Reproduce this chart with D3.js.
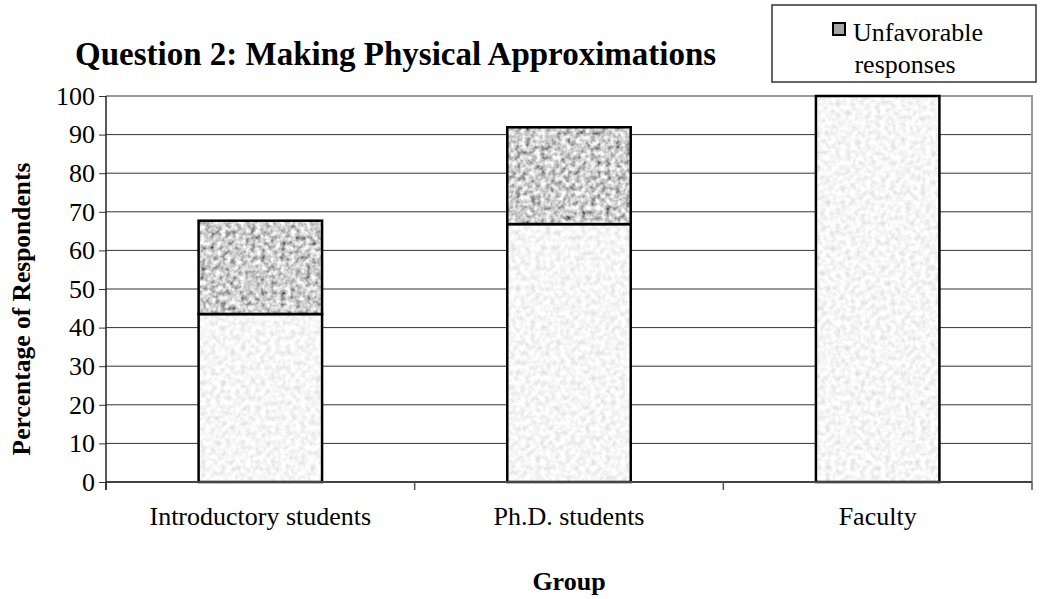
<!DOCTYPE html>
<html>
<head>
<meta charset="utf-8" />
<style>
  body {
    margin: 0;
    background: white;
    font-family: "Liberation Serif", "Times New Roman", serif;
  }
</style>
</head>
<body>
<div id="container"></div>
<script src="https://d3js.org/d3.v7.min.js"></script>
<script>
  // DATA
  const groups = ["Introductory students", "Ph.D. students", "Faculty"];
  const favorable = [43.5, 66.8, 100];
  const unfavorable = [24.2, 25.1, 0];
  const yTicks = [0, 10, 20, 30, 40, 50, 60, 70, 80, 90, 100];

  // CONSTRUCT SVG CONTAINER
  const W = 1041, H = 599;
  const margin = { top: 96, right: 9, bottom: 117, left: 106 };
  const width = W - margin.left - margin.right;
  const height = H - margin.top - margin.bottom;

  const root = d3
    .select("#container")
    .append("svg")
    .attr("width", W)
    .attr("height", H)
    .style("display", "block");

  // speckled fills, made with noise filters
  const defs = root.append("defs");
  function noiseFilter(id, k, off, freq, seed) {
    const f = defs
      .append("filter")
      .attr("id", id)
      .attr("x", 0)
      .attr("y", 0)
      .attr("width", 1)
      .attr("height", 1);
    f.append("feTurbulence")
      .attr("type", "fractalNoise")
      .attr("baseFrequency", freq)
      .attr("numOctaves", 2)
      .attr("seed", seed)
      .attr("result", "n");
    const row = k + " 0 0 0 " + off + " ";
    f.append("feColorMatrix")
      .attr("in", "n")
      .attr("type", "matrix")
      .attr("values", row + row + row + "0 0 0 0 1")
      .attr("result", "g");
    f.append("feComposite")
      .attr("in", "g")
      .attr("in2", "SourceGraphic")
      .attr("operator", "in");
  }
  noiseFilter("darkNoise", 1.5, -0.13, 0.2, 4);
  noiseFilter("lightNoise", 0.5, 0.67, 0.2, 9);

  const svg = root
    .append("g")
    .attr("transform", "translate(" + margin.left + "," + margin.top + ")");

  // SCALES
  const xScale = d3
    .scaleBand()
    .domain(groups)
    .range([0, width])
    .paddingInner(0.6)
    .paddingOuter(0.3);

  const yScale = d3.scaleLinear().domain([0, 100]).range([height, 0]);

  // GRIDLINES
  svg
    .selectAll(".grid")
    .data(yTicks.filter((d) => d > 0 && d < 100))
    .enter()
    .append("line")
    .attr("x1", 0)
    .attr("x2", width)
    .attr("y1", (d) => yScale(d))
    .attr("y2", (d) => yScale(d))
    .attr("stroke", "#333")
    .attr("stroke-width", 1);

  // plot border (top and right)
  svg
    .append("path")
    .attr("d", "M0," + yScale(100) + "H" + width + "V" + yScale(0))
    .attr("fill", "none")
    .attr("stroke", "#999")
    .attr("stroke-width", 2);

  // BARS
  const bars = svg
    .selectAll(".bar")
    .data(groups)
    .enter()
    .append("g")
    .attr("class", "bar");

  bars
    .append("rect")
    .attr("x", (d) => xScale(d))
    .attr("width", xScale.bandwidth())
    .attr("y", (d, i) => yScale(favorable[i]))
    .attr("height", (d, i) => yScale(0) - yScale(favorable[i]))
    .attr("fill", "#ebebeb")
    .attr("filter", "url(#lightNoise)");

  bars
    .filter((d, i) => unfavorable[i] > 0)
    .append("rect")
    .attr("x", (d) => xScale(d))
    .attr("width", xScale.bandwidth())
    .attr("y", (d, i) => yScale(favorable[i] + unfavorable[i]))
    .attr("height", (d, i) => yScale(favorable[i]) - yScale(favorable[i] + unfavorable[i]))
    .attr("fill", "#a5a5a5")
    .attr("filter", "url(#darkNoise)");

  // outlines of each segment
  bars
    .append("rect")
    .attr("x", (d) => xScale(d))
    .attr("width", xScale.bandwidth())
    .attr("y", (d, i) => yScale(favorable[i]))
    .attr("height", (d, i) => yScale(0) - yScale(favorable[i]))
    .attr("fill", "none")
    .attr("stroke", "black")
    .attr("stroke-width", 2.5);

  bars
    .filter((d, i) => unfavorable[i] > 0)
    .append("rect")
    .attr("x", (d) => xScale(d))
    .attr("width", xScale.bandwidth())
    .attr("y", (d, i) => yScale(favorable[i] + unfavorable[i]))
    .attr("height", (d, i) => yScale(favorable[i]) - yScale(favorable[i] + unfavorable[i]))
    .attr("fill", "none")
    .attr("stroke", "black")
    .attr("stroke-width", 2.5);

  // AXES
  const yAxis = svg
    .append("g")
    .call(d3.axisLeft(yScale).tickValues(yTicks).tickSize(7).tickPadding(4));
  yAxis.select(".domain").remove();
  yAxis.selectAll(".tick line").attr("stroke", "#333");
  yAxis
    .selectAll("text")
    .attr("fill", "black")
    .style("font-family", "Liberation Serif")
    .style("font-size", "26px");

  // x axis baseline and ticks at band edges
  svg
    .append("line")
    .attr("x1", 0)
    .attr("x2", width)
    .attr("y1", height)
    .attr("y2", height)
    .attr("stroke", "#444")
    .attr("stroke-width", 2);

  const edges = groups.map((d) => xScale(d) - (xScale.step() * xScale.paddingInner()) / 2);
  edges[0] = 0;
  edges.push(width);
  svg
    .selectAll(".xtick")
    .data(edges)
    .enter()
    .append("line")
    .attr("x1", (d) => d)
    .attr("x2", (d) => d)
    .attr("y1", height)
    .attr("y2", height + 8)
    .attr("stroke", "#555")
    .attr("stroke-width", 1.5);

  // y axis line
  svg
    .append("line")
    .attr("x1", 0)
    .attr("x2", 0)
    .attr("y1", 0)
    .attr("y2", height + 8)
    .attr("stroke", "#222")
    .attr("stroke-width", 1.5);

  svg
    .selectAll(".xlabel")
    .data(groups)
    .enter()
    .append("text")
    .attr("x", (d) => xScale(d) + xScale.bandwidth() / 2)
    .attr("y", height + 43)
    .attr("text-anchor", "middle")
    .style("font-size", "26px")
    .text((d) => d);

  // AXIS TITLES
  svg
    .append("text")
    .attr("x", width / 2)
    .attr("y", height + 108)
    .attr("text-anchor", "middle")
    .style("font-size", "26px")
    .style("font-weight", "bold")
    .text("Group");

  svg
    .append("text")
    .attr("transform", "rotate(-90)")
    .attr("x", -213)
    .attr("y", -76)
    .attr("text-anchor", "middle")
    .style("font-size", "25.5px")
    .style("font-weight", "bold")
    .text("Percentage of Respondents");

  // CHART TITLE
  root
    .append("text")
    .attr("x", 75)
    .attr("y", 65)
    .style("font-size", "33px")
    .style("font-weight", "bold")
    .text("Question 2: Making Physical Approximations");

  // LEGEND
  const legend = root.append("g").attr("class", "legend");
  legend
    .append("rect")
    .attr("x", 772)
    .attr("y", 5)
    .attr("width", 264)
    .attr("height", 77)
    .attr("fill", "white")
    .attr("stroke", "#333")
    .attr("stroke-width", 1.5);

  legend
    .append("rect")
    .attr("x", 833)
    .attr("y", 23)
    .attr("width", 12)
    .attr("height", 12)
    .attr("fill", "#a5a5a5")
    .attr("stroke", "black")
    .attr("stroke-width", 2);

  legend
    .append("text")
    .attr("x", 853)
    .attr("y", 41)
    .style("font-size", "26px")
    .text("Unfavorable");

  legend
    .append("text")
    .attr("x", 905)
    .attr("y", 73)
    .attr("text-anchor", "middle")
    .style("font-size", "26px")
    .text("responses");
</script>
</body>
</html>
